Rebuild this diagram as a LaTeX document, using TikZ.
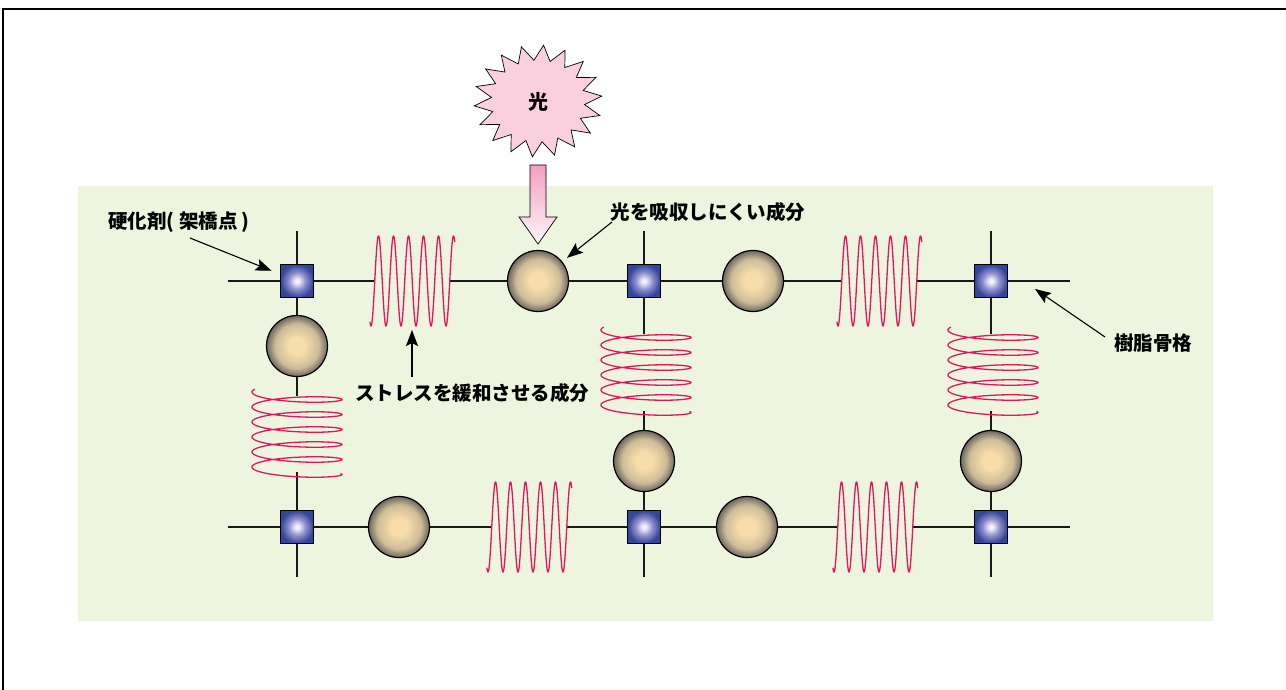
\documentclass[tikz,border=0pt]{standalone}
\usepackage{fontspec}
\newfontfamily\cjk{Noto Sans CJK JP}
\usetikzlibrary{arrows.meta}
\definecolor{panel}{RGB}{237,245,223}
\definecolor{springc}{RGB}{226,22,92}
\definecolor{balltan}{RGB}{246,221,170}
\definecolor{ballmid}{RGB}{205,188,152}
\definecolor{ballrim}{RGB}{108,102,94}
\definecolor{sqwhite}{RGB}{246,242,252}
\definecolor{sqmid}{RGB}{140,142,205}
\definecolor{sqblue}{RGB}{52,68,152}
\definecolor{starpink}{RGB}{250,208,222}
\definecolor{arrtop}{RGB}{244,160,192}
\definecolor{arrbot}{RGB}{253,244,248}
\pgfdeclareradialshading{ballshade}{\pgfpoint{0bp}{0bp}}{color(0bp)=(balltan); color(7bp)=(balltan); color(18bp)=(ballmid); color(25bp)=(ballrim); color(50bp)=(ballrim)}
\pgfdeclareradialshading{sqshade}{\pgfpoint{0bp}{0bp}}{color(0bp)=(sqwhite); color(2.5bp)=(sqwhite); color(13bp)=(sqmid); color(25bp)=(sqblue); color(50bp)=(sqblue)}
\pgfdeclarelayer{back}
\pgfdeclarelayer{lines}
\pgfsetlayers{back,lines,main}
\tikzset{
  ball/.style={circle, draw=black, line width=1.2pt, minimum size=61pt, inner sep=0pt, shade, shading=ballshade},
  xlink/.style={rectangle, draw=black, line width=1.2pt, minimum size=33pt, inner sep=0pt, shade, shading=sqshade},
  bone/.style={draw=black!90, line width=1.3pt},
  springline/.style={draw=springc, line width=1.3pt},
  callout/.style={draw=black, line width=1.1pt, -{Stealth[length=16pt, width=12pt, inset=3pt]}},
  lab/.style={font=\cjk\bfseries\fontsize{19.5}{21}\selectfont, inner sep=0pt}
}
\newcommand\myhspring[2]{\draw[springline] plot[domain=-25:2010, samples=500, smooth, variable=\t] ({#1 + \t/24}, {#2 + 45*cos(\t)});}
\newcommand\myvspring[2]{\draw[springline] plot[domain=-20:1995, samples=500, smooth, variable=\t] ({#1 - 45*cos(\t)}, {#2 + \t/24 + 6*sin(\t)});}
\begin{document}
\begin{tikzpicture}[x=1pt, y=-1pt]
\useasboundingbox (0,0) rectangle (1286,690);
% frame and panel
\begin{pgfonlayer}{back}
\draw[line width=1.5pt] (3,700) -- (3,9) -- (1300,9);
\fill[panel] (78,186) rectangle (1213,621);
\end{pgfonlayer}
% crosslinks
\node[xlink] (sq1) at (297,281) {};
\node[xlink] (sq2) at (644,281) {};
\node[xlink] (sq3) at (991,281) {};
\node[xlink] (sq4) at (297,527) {};
\node[xlink] (sq5) at (644,527) {};
\node[xlink] (sq6) at (991,527) {};
% balls
\node[ball] (b1) at (538,281) {};
\node[ball] (b2) at (753,281) {};
\node[ball] (b3) at (399,527) {};
\node[ball] (b4) at (747,527) {};
\node[ball] (b5) at (297,346) {};
\node[ball] (b6) at (644,461) {};
\node[ball] (b7) at (991,461) {};
% coordinates
\coordinate (tl) at (228,281); \coordinate (tr) at (1070,281);
\coordinate (bl) at (228,527); \coordinate (br) at (1070,527);
\coordinate (c1t) at (297,231); \coordinate (c1b) at (297,577);
\coordinate (c2t) at (644,231); \coordinate (c2b) at (644,577);
\coordinate (c3t) at (991,231); \coordinate (c3b) at (991,577);
\coordinate (h1i) at (375,281); \coordinate (h1o) at (450,281);
\coordinate (h2i) at (842,281); \coordinate (h2o) at (917,281);
\coordinate (h3i) at (492,527); \coordinate (h3o) at (567,527);
\coordinate (h4i) at (838,527); \coordinate (h4o) at (913,527);
\coordinate (v1i) at (297,396); \coordinate (v1o) at (297,472);
\coordinate (v2i) at (644,334); \coordinate (v2o) at (644,411);
\coordinate (v3i) at (991,334); \coordinate (v3o) at (991,411);
% backbone
\begin{pgfonlayer}{lines}
\draw[bone] (tl) -- (sq1) -- (h1i);
\draw[bone] (h1o) -- (b1) -- (sq2) -- (b2) -- (h2i);
\draw[bone] (h2o) -- (sq3) -- (tr);
\draw[bone] (bl) -- (sq4) -- (b3) -- (h3i);
\draw[bone] (h3o) -- (sq5) -- (b4) -- (h4i);
\draw[bone] (h4o) -- (sq6) -- (br);
\draw[bone] (c1t) -- (sq1) -- (b5) -- (v1i);
\draw[bone] (v1o) -- (sq4) -- (c1b);
\draw[bone] (c2t) -- (sq2) -- (v2i);
\draw[bone] (v2o) -- (b6) -- (sq5) -- (c2b);
\draw[bone] (c3t) -- (sq3) -- (v3i);
\draw[bone] (v3o) -- (b7) -- (sq6) -- (c3b);
% springs
\myhspring{371}{281}
\myhspring{838}{281}
\myhspring{488}{527}
\myhspring{834}{527}
\myvspring{297}{392}
\myvspring{646}{330}
\myvspring{993}{330}
\end{pgfonlayer}
% light burst
\draw[fill=starpink, line width=0.7pt] plot[samples at={0,...,35}, variable=\i] ({538 + (1-0.27*mod(\i,2))*64*cos(\i*10+85)}, {101 - (1-0.27*mod(\i,2))*56*sin(\i*10+85)}) -- cycle;
\node[font=\cjk\bfseries\fontsize{20}{21}\selectfont] (star) at (538,102) {光};
% big arrow
\path[draw=black, line width=0.7pt, top color=arrtop, bottom color=arrbot] (530,165) -- (546,165) -- (546,217) -- (557,217) -- (538,244) -- (519,217) -- (530,217) -- cycle;
% labels
\node[lab] (l1) at (179,222) {硬化剤( 架橋点 )};
\node[lab] (l2) at (708,212) {光を吸収しにくい成分};
\node[lab] (l3) at (472,393) {ストレスを緩和させる成分};
\node[lab] (l4) at (1153,343) {樹脂骨格};
% callouts
\coordinate (a1s) at (190,238);
\coordinate (a2s) at (612,222);
\coordinate (a3s) at (412,377); \coordinate (a3e) at (412,330);
\coordinate (a4s) at (1105,337); \coordinate (a4e) at (1035,289);
\draw[callout, shorten >=9pt] (a1s) -- (sq1);
\draw[callout, shorten >=6pt] (a2s) -- (b1);
\draw[callout] (a3s) -- (a3e);
\draw[callout] (a4s) -- (a4e);
\end{tikzpicture}
\end{document}
